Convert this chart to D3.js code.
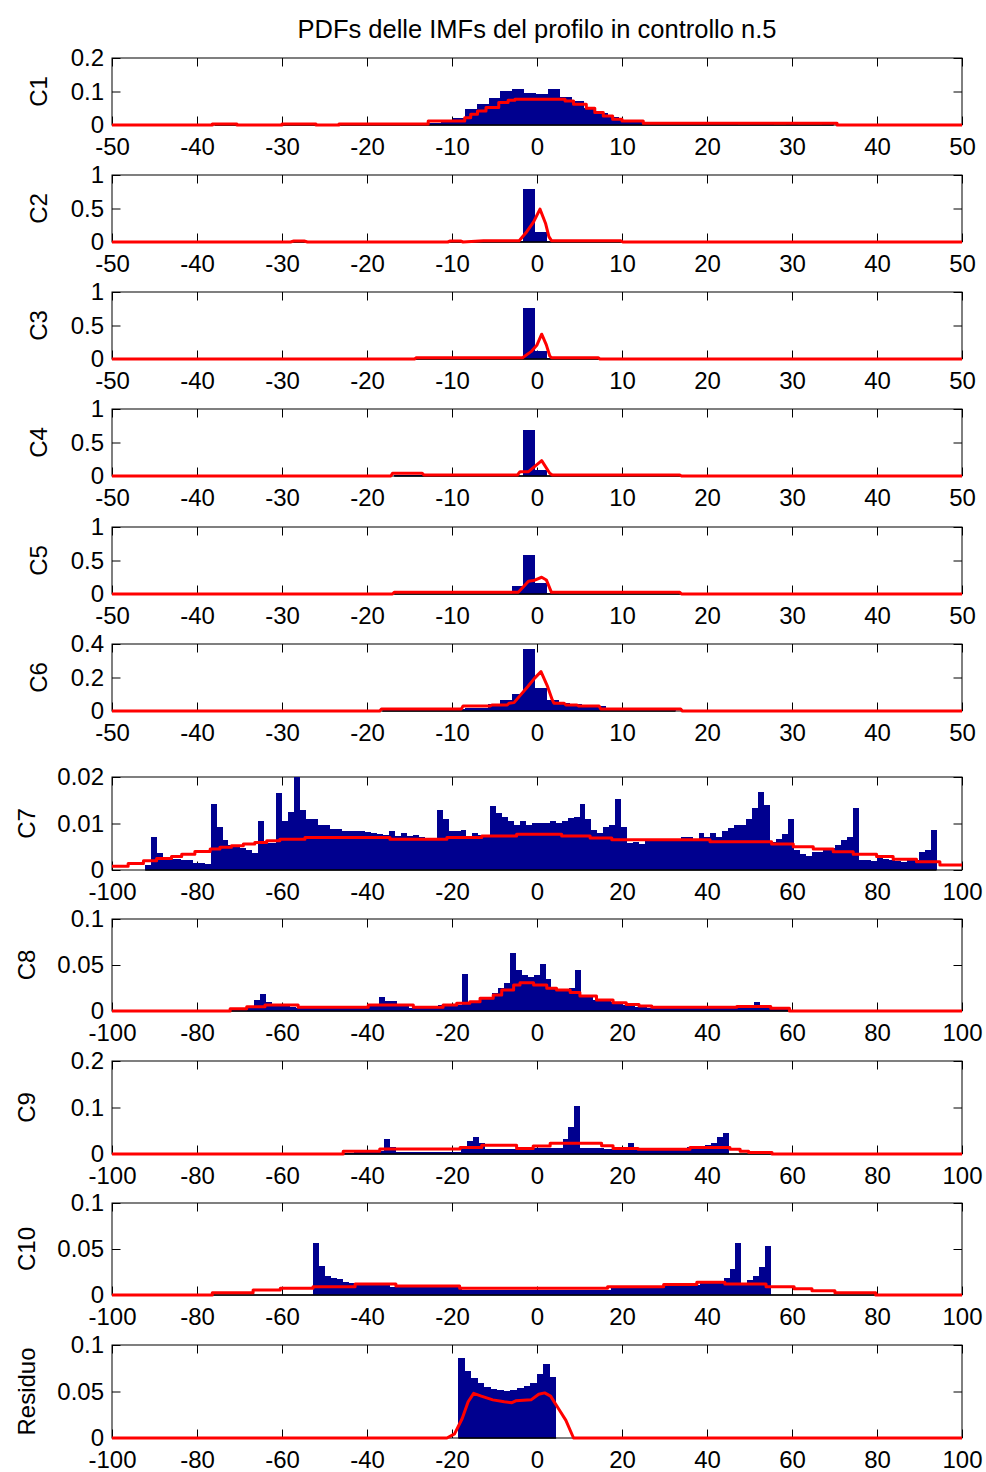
<!DOCTYPE html>
<html>
<head>
<meta charset="utf-8">
<script src="https://cdn.jsdelivr.net/npm/d3@7"></script>
<style>
  body { margin: 0; background: #fff; }
  text { font-family: "Liberation Sans", Arial, sans-serif; fill: #000; }
</style>
</head>
<body>
<svg id="chart" width="986" height="1472"></svg>
<script>
// ---- data ----
var title = "PDFs delle IMFs del profilo in controllo n.5";
var labels = ["C1", "C2", "C3", "C4", "C5", "C6", "C7", "C8", "C9", "C10", "Residuo"];

var xTicks50 = [-50, -40, -30, -20, -10, 0, 10, 20, 30, 40, 50];
var xTicks100 = [-100, -80, -60, -40, -20, 0, 20, 40, 60, 80, 100];

var c1YTicks = [0, 0.1, 0.2];
var unitYTicks = [0, 0.5, 1];
var c6YTicks = [0, 0.2, 0.4];
var c7YTicks = [0, 0.01, 0.02];
var c8YTicks = [0, 0.05, 0.1];
var c9YTicks = [0, 0.1, 0.2];
var resYTicks = [0, 0.05, 0.1];

// histogram bins: [first edge, bin width], heights, span of the zero line
var c1Edge = [-37.9, 1.4];
var c1Hist = [0.003, 0.002, 0, 0, 0, 0, 0.002, 0.002, 0.001, 0, 0.001, 0.001, 0.001, 0.001, 0.002, 0.002,
  0.002, 0.004, 0.007, 0.01, 0.022, 0.047, 0.064, 0.08, 0.102, 0.107, 0.097, 0.093, 0.107, 0.085, 0.072,
  0.052, 0.037, 0.025, 0.015, 0.01, 0.006, 0.003, 0.002, 0.002, 0.002, 0.002, 0.002, 0.002, 0.001, 0.002,
  0.002, 0.001, 0.002, 0.001, 0.001, 0.002];
var c1Span = [-37.9, 34.9];
var c1Pdf = [[-50, 0], [-38.2, 0.003], [-35.3, 0], [-30, 0.003], [-26, 0], [-23.3, 0.003], [-12.8, 0.012],
  [-8.5, 0.022], [-7.8, 0.032], [-7, 0.042], [-6, 0.052], [-4.5, 0.067], [-3.4, 0.074], [-2.6, 0.077],
  [3.3, 0.072], [4.3, 0.062], [5.8, 0.05], [6.8, 0.037], [7.8, 0.027], [8.9, 0.017], [10, 0.012],
  [12.5, 0.005], [35.3, 0], [50, 0]];

var c2Edge = [-29.2, 1.38];
var c2Hist = [0.008, 0.006, 0, 0, 0, 0, 0, 0, 0, 0, 0, 0, 0, 0.006, 0.003, 0, 0.006, 0.01, 0.012, 0.02,
  0.79, 0.154, 0.015, 0.008, 0.006, 0.006, 0.005, 0.005, 0.004];
var c2Span = [-29.2, 10.8];
var c2Pdf = [[-50, 0], [-29, 0], [-28.6, 0.015], [-27.4, 0.015], [-27, 0], [-10.5, 0], [-10.2, 0.015],
  [-9, 0.015], [-8.7, 0], [-6.3, 0.02], [-2.1, 0.02], [-1.2, 0.154], [-0.4, 0.3], [0.35, 0.49],
  [1.0, 0.28], [1.4, 0.08], [1.7, 0.02], [9.8, 0.02], [10.1, 0], [50, 0]];

var c3Edge = [-14.02, 1.38];
var c3Hist = [0.006, 0.006, 0.006, 0.006, 0.006, 0.006, 0.006, 0.006, 0.006, 0.757, 0.12, 0.008, 0.008,
  0.008, 0.008, 0.008, 0.002, 0.002, 0.002, 0.002, 0.002, 0.002, 0.002, 0.002, 0.002, 0.002, 0.01, 0.004];
var c3Span = [-14.4, 24.6];
var c3Pdf = [[-50, 0], [-14.4, 0], [-14.2, 0.02], [-1.7, 0.02], [-0.7, 0.11], [0, 0.21], [0.55, 0.37],
  [1.1, 0.21], [1.5, 0.045], [1.7, 0.02], [7.2, 0.02], [7.4, 0], [50, 0]];

var c4Edge = [-16.78, 1.38];
var c4Hist = [0.015, 0.015, 0.015, 0.005, 0.005, 0.005, 0.005, 0.005, 0.005, 0.005, 0.005, 0.687, 0.09,
  0.005, 0.005, 0.005, 0.005, 0.005, 0.005, 0.005, 0.005, 0.005, 0.005, 0.005, 0.005];
var c4Span = [-16.8, 17.7];
var c4Pdf = [[-50, 0], [-17.2, 0], [-17, 0.04], [-13.5, 0.04], [-13.3, 0.015], [-2.3, 0.015], [-2.0, 0.065],
  [-1.0, 0.065], [0.55, 0.23], [1.5, 0.04], [1.8, 0.015], [16.8, 0.015], [17, 0], [50, 0]];

var c5Edge = [-16.78, 1.38];
var c5Hist = [0.006, 0.006, 0.006, 0.006, 0.006, 0.006, 0.006, 0.006, 0.006, 0.006, 0.12, 0.58, 0.16,
  0.02, 0.006, 0.006, 0.006, 0.006, 0.006, 0.006, 0.006, 0.006, 0.006, 0.006, 0.006];
var c5Span = [-16.8, 17.7];
var c5Pdf = [[-50, 0], [-17, 0], [-16.8, 0.025], [-2.2, 0.025], [-1.0, 0.19], [-0.4, 0.2], [0.55, 0.25],
  [1.1, 0.21], [1.7, 0.025], [16.8, 0.025], [17, 0], [50, 0]];

var c6Edge = [-18.16, 1.38];
var c6Hist = [0.008, 0.008, 0.008, 0.008, 0.01, 0.01, 0.012, 0.015, 0.02, 0.042, 0.066, 0.1, 0.37, 0.139,
  0.066, 0.05, 0.04, 0.03, 0.03, 0.02, 0.015, 0.01, 0.008, 0.008, 0.008];
var c6Span = [-18.2, 16.3];
var c6Pdf = [[-50, 0], [-18.5, 0], [-18.3, 0.012], [-8.9, 0.012], [-8.7, 0.03], [-5.5, 0.03], [-5.3, 0.036],
  [-3.5, 0.036], [-3.3, 0.046], [-2.7, 0.05], [-2.1, 0.086], [-1.1, 0.145], [-0.3, 0.195], [0.47, 0.235],
  [1.25, 0.145], [1.8, 0.066], [2.0, 0.046], [3.2, 0.046], [3.4, 0.036], [4.7, 0.036], [4.9, 0.03],
  [7.3, 0.03], [7.5, 0.012], [16.9, 0.012], [17.1, 0], [50, 0]];

var c7Edge = [-92.2, 1.4];
var c7Hist = [0.0011, 0.0072, 0.0037, 0.0026, 0.0024, 0.0023, 0.0022, 0.0021, 0.0016, 0.0016,
  0.0013, 0.0143, 0.0093, 0.0065, 0.0054, 0.0052, 0.0047, 0.0043, 0.0036, 0.0105,
  0.0057, 0.0057, 0.0165, 0.0105, 0.0125, 0.0201, 0.013, 0.011, 0.011, 0.0097,
  0.0097, 0.0088, 0.0088, 0.0084, 0.0084, 0.0084, 0.0083, 0.0082, 0.0079, 0.0078,
  0.0075, 0.0084, 0.0073, 0.008, 0.0073, 0.0075, 0.007, 0.0066, 0.0066, 0.013,
  0.0109, 0.0084, 0.0084, 0.0085, 0.007, 0.008, 0.0075, 0.0075, 0.0138, 0.0122,
  0.0113, 0.0105, 0.0097, 0.0105, 0.0097, 0.0102, 0.0102, 0.0102, 0.0105, 0.0102,
  0.0105, 0.0111, 0.0115, 0.0143, 0.0109, 0.0085, 0.008, 0.0093, 0.0097, 0.0152,
  0.0093, 0.0057, 0.006, 0.0055, 0.0064, 0.0064, 0.0065, 0.0064, 0.0064, 0.0065,
  0.007, 0.007, 0.0065, 0.008, 0.007, 0.008, 0.0072, 0.0083, 0.009, 0.0097,
  0.0097, 0.0109, 0.0134, 0.0168, 0.014, 0.006, 0.0066, 0.0077, 0.0109, 0.0042,
  0.0035, 0.003, 0.0039, 0.0039, 0.0044, 0.0048, 0.0054, 0.0065, 0.0072, 0.0134,
  0.0022, 0.0022, 0.002, 0.0027, 0.0024, 0.0022, 0.002, 0.0018, 0.0022, 0.0022,
  0.0039, 0.0043, 0.0085];
var c7Span = [-92.2, 94.0];
var c7Pdf = [[-100, 0.0008], [-96.2, 0.0014], [-92.6, 0.002], [-89.5, 0.0025], [-86, 0.0029], [-83.6, 0.0034],
  [-80.5, 0.004], [-76.9, 0.0045], [-74.6, 0.0049], [-71.9, 0.0052], [-69.1, 0.0056], [-66.4, 0.0059],
  [-63.6, 0.0063], [-60.5, 0.0066], [-54.6, 0.007], [-34.6, 0.0066], [-21.2, 0.007], [-13, 0.0073],
  [-4.8, 0.0077], [5.8, 0.0073], [12.5, 0.0069], [17.6, 0.0065], [40.7, 0.0061], [55.2, 0.0056],
  [60.3, 0.005], [65, 0.0045], [69.7, 0.0039], [74.4, 0.0034], [79.9, 0.0029], [83.8, 0.0023],
  [89.3, 0.0018], [94.8, 0.0011], [100, 0.0011]];

var c8Edge = [-72.2, 1.4];
var c8Hist = [0.002, 0.002, 0.003, 0.005, 0.012, 0.019, 0.01, 0.008, 0.005, 0.005,
  0.0045, 0.0036, 0.0035, 0.0036, 0.0034, 0.0036, 0.0035, 0.0036, 0.0037, 0.0035,
  0.0036, 0.004, 0.0045, 0.006, 0.006, 0.015, 0.011, 0.011, 0.0065, 0.0065,
  0.003, 0.003, 0.003, 0.0035, 0.004, 0.0065, 0.0065, 0.0065, 0.0065, 0.04,
  0.01, 0.01, 0.015, 0.015, 0.02, 0.025, 0.03, 0.063, 0.045, 0.039,
  0.037, 0.039, 0.051, 0.035, 0.025, 0.023, 0.024, 0.025, 0.045, 0.017,
  0.017, 0.012, 0.012, 0.012, 0.01, 0.008, 0.006, 0.005, 0.004, 0.004,
  0.003, 0.003, 0.003, 0.003, 0.003, 0.003, 0.003, 0.003, 0.003, 0.003,
  0.003, 0.003, 0.003, 0.003, 0.004, 0.004, 0.004, 0.005, 0.01, 0.005,
  0.003, 0.002, 0.002, 0.002];
var c8Span = [-72.2, 59.4];
var c8Pdf = [[-100, 0], [-72.2, 0.0025], [-68.3, 0.0047], [-64, 0.0065], [-56.2, 0.004], [-39.7, 0.0065],
  [-29.1, 0.004], [-22.1, 0.0065], [-18.9, 0.0083], [-15.8, 0.01], [-13.4, 0.0138], [-10.3, 0.0174],
  [-8.3, 0.0228], [-5.5, 0.0283], [-4, 0.0308], [-0.8, 0.0283], [2.3, 0.0246], [4.6, 0.0228],
  [7.8, 0.02], [10.1, 0.0163], [14, 0.012], [17.9, 0.009], [21, 0.0072], [24, 0.0055], [27, 0.004],
  [47, 0.005], [55, 0.003], [59.4, 0], [100, 0]];

var c9Edge = [-45.8, 1.4];
var c9Hist = [0.003, 0.003, 0.004, 0.004, 0.005, 0.005, 0.006, 0.033, 0.014, 0.005,
  0.005, 0.005, 0.005, 0.005, 0.005, 0.005, 0.005, 0.005, 0.005, 0.005,
  0.014, 0.028, 0.037, 0.024, 0.01, 0.01, 0.01, 0.01, 0.01, 0.01,
  0.01, 0.012, 0.012, 0.012, 0.012, 0.012, 0.012, 0.033, 0.058, 0.104,
  0.012, 0.012, 0.012, 0.012, 0.01, 0.01, 0.01, 0.01, 0.024, 0.01,
  0.01, 0.01, 0.01, 0.01, 0.01, 0.01, 0.01, 0.01, 0.016, 0.016,
  0.016, 0.019, 0.024, 0.037, 0.045];
var c9Span = [-45.8, 55.3];
var c9Pdf = [[-100, 0], [-45.6, 0.006], [-37, 0.0106], [-18.1, 0.014], [-13, 0.019], [-4.8, 0.012],
  [-0.9, 0.017], [3.1, 0.023], [15.2, 0.018], [17.9, 0.012], [23.8, 0.01], [36, 0.014], [45.4, 0.01],
  [47.8, 0.006], [49.8, 0.003], [55.3, 0], [100, 0]];

var c10Edge = [-52.7, 1.4];
var c10Hist = [0.056, 0.031, 0.021, 0.019, 0.017, 0.0145, 0.013, 0.011, 0.011, 0.011,
  0.011, 0.011, 0.011, 0.0083, 0.0083, 0.0083, 0.0083, 0.0083, 0.0083, 0.0083,
  0.0083, 0.0083, 0.0083, 0.0083, 0.0083, 0.0054, 0.0054, 0.0054, 0.0054, 0.0054,
  0.0054, 0.0054, 0.0054, 0.0054, 0.0054, 0.0054, 0.0054, 0.0054, 0.0054, 0.0054,
  0.0054, 0.0054, 0.0054, 0.0054, 0.0054, 0.0054, 0.0054, 0.0054, 0.0054, 0.0054,
  0.0072, 0.0072, 0.0072, 0.0072, 0.0072, 0.0072, 0.0072, 0.0072, 0.0098, 0.0098,
  0.0098, 0.0098, 0.0098, 0.0098, 0.011, 0.0134, 0.0134, 0.0134, 0.0156, 0.019,
  0.028, 0.057, 0.012, 0.016, 0.021, 0.03, 0.053];
var c10Span = [-76.4, 80];
var c10Pdf = [[-100, 0], [-76.4, 0.0025], [-66.8, 0.0055], [-60.4, 0.0073], [-52.7, 0.0091], [-42.8, 0.012],
  [-33.2, 0.0098], [-18.2, 0.0073], [16.6, 0.0091], [29.8, 0.0113], [37.6, 0.0138], [44.2, 0.012],
  [53.9, 0.0091], [60.5, 0.0069], [64.7, 0.0047], [70.1, 0.0025], [79.7, 0], [100, 0]];

var resEdge = [-18.5, 1.533];
var resHist = [0.086, 0.0724, 0.064, 0.0596, 0.055, 0.053, 0.0515, 0.051, 0.052, 0.0537, 0.056,
  0.0596, 0.069, 0.08, 0.066];
var resSpan = [-18.5, 4.5];
var resPdf = [[-100, 0], [-21.2, 0], [-19.4, 0.0044], [-17.6, 0.021], [-16.2, 0.039], [-14.9, 0.048],
  [-13.1, 0.045], [-10.4, 0.041], [-7.7, 0.039], [-5.9, 0.038], [-5, 0.04], [-1.4, 0.041], [0.4, 0.047],
  [1.8, 0.0485], [3.2, 0.045], [5, 0.032], [6.8, 0.019], [8.6, 0], [100, 0]];

// ---- panel table ----
var panels = [
  { xt: xTicks50, yt: c1YTicks, edge: c1Edge, hist: c1Hist, span: c1Span, pdf: c1Pdf, step: true },
  { xt: xTicks50, yt: unitYTicks, edge: c2Edge, hist: c2Hist, span: c2Span, pdf: c2Pdf, step: false },
  { xt: xTicks50, yt: unitYTicks, edge: c3Edge, hist: c3Hist, span: c3Span, pdf: c3Pdf, step: false },
  { xt: xTicks50, yt: unitYTicks, edge: c4Edge, hist: c4Hist, span: c4Span, pdf: c4Pdf, step: false },
  { xt: xTicks50, yt: unitYTicks, edge: c5Edge, hist: c5Hist, span: c5Span, pdf: c5Pdf, step: false },
  { xt: xTicks50, yt: c6YTicks, edge: c6Edge, hist: c6Hist, span: c6Span, pdf: c6Pdf, step: false },
  { xt: xTicks100, yt: c7YTicks, edge: c7Edge, hist: c7Hist, span: c7Span, pdf: c7Pdf, step: true },
  { xt: xTicks100, yt: c8YTicks, edge: c8Edge, hist: c8Hist, span: c8Span, pdf: c8Pdf, step: true },
  { xt: xTicks100, yt: c9YTicks, edge: c9Edge, hist: c9Hist, span: c9Span, pdf: c9Pdf, step: true },
  { xt: xTicks100, yt: c8YTicks, edge: c10Edge, hist: c10Hist, span: c10Span, pdf: c10Pdf, step: true },
  { xt: xTicks100, yt: resYTicks, edge: resEdge, hist: resHist, span: resSpan, pdf: resPdf, step: false }
];

// axes boxes (top, bottom) in pixels
var boxes = [[58, 125], [175, 242], [292, 359], [409, 476], [527, 594], [644, 711],
  [777, 870], [919, 1011], [1061, 1154], [1203, 1295], [1345, 1438]];
var left = 112, right = 962, tick = 8.5;
var barColor = "#00008f";

var svg = d3.select("#chart");

svg.append("text")
    .attr("x", (left + right) / 2)
    .attr("y", 38)
    .attr("text-anchor", "middle")
    .style("font-size", "25.5px")
    .text(title);

panels.forEach(function (p, i) {
    var top = boxes[i][0], bottom = boxes[i][1];
    var x = d3.scaleLinear().domain(d3.extent(p.xt)).range([left, right]);
    var y = d3.scaleLinear().domain(d3.extent(p.yt)).range([bottom, top]);
    var g = svg.append("g");

    // box + inward ticks on all four sides
    g.append("rect")
        .attr("x", left).attr("y", top)
        .attr("width", right - left).attr("height", bottom - top)
        .attr("fill", "none").attr("stroke", "#000");

    var fmt = function (d) { return String(d); };
    g.append("g").attr("transform", "translate(0," + bottom + ")")
        .call(d3.axisBottom(x).tickValues(p.xt).tickSizeInner(-tick).tickSizeOuter(0)
            .tickPadding(13).tickFormat(fmt));
    g.append("g").attr("transform", "translate(0," + top + ")")
        .call(d3.axisTop(x).tickValues(p.xt).tickSizeInner(-tick).tickSizeOuter(0).tickFormat(""));
    g.append("g").attr("transform", "translate(" + left + ",0)")
        .call(d3.axisLeft(y).tickValues(p.yt).tickSizeInner(-tick).tickSizeOuter(0)
            .tickPadding(8).tickFormat(fmt));
    g.append("g").attr("transform", "translate(" + right + ",0)")
        .call(d3.axisRight(y).tickValues(p.yt).tickSizeInner(-tick).tickSizeOuter(0).tickFormat(""));
    g.selectAll(".domain").remove();
    g.selectAll(".tick line").attr("stroke", "#000");
    g.selectAll(".tick text").style("font-size", "24px").attr("font-family", null);

    // histogram bars
    var bins = p.hist.map(function (h, k) {
        return { x0: p.edge[0] + k * p.edge[1], x1: p.edge[0] + (k + 1) * p.edge[1], h: h };
    });
    g.append("g").attr("shape-rendering", "crispEdges")
        .selectAll("rect")
        .data(bins.filter(function (d) { return d.h > 0; }))
        .join("rect")
        .attr("x", function (d) { return x(d.x0); })
        .attr("width", function (d) { return x(d.x1) - x(d.x0); })
        .attr("y", function (d) { return y(Math.min(d.h, p.yt[2])); })
        .attr("height", function (d) { return y(0) - y(Math.min(d.h, p.yt[2])); })
        .attr("fill", barColor);

    // zero line of the histogram
    g.append("line")
        .attr("x1", x(p.span[0])).attr("x2", x(p.span[1]))
        .attr("y1", y(0)).attr("y2", y(0))
        .attr("stroke", "#000").attr("stroke-width", 1.5);

    // fitted pdf
    var line = d3.line()
        .x(function (d) { return x(d[0]); })
        .y(function (d) { return y(d[1]); })
        .curve(p.step ? d3.curveStepAfter : d3.curveLinear);
    g.append("path")
        .datum(p.pdf)
        .attr("d", line)
        .attr("fill", "none")
        .attr("stroke", "#ff0000")
        .attr("stroke-width", 3)
        .attr("stroke-linejoin", "round");

    // y label
    var lx = i < 6 ? 47 : 35;
    g.append("text")
        .attr("transform", "translate(" + lx + "," + (top + bottom) / 2 + ") rotate(-90)")
        .attr("text-anchor", "middle")
        .style("font-size", "24px")
        .text(labels[i]);
});
</script>
</body>
</html>
